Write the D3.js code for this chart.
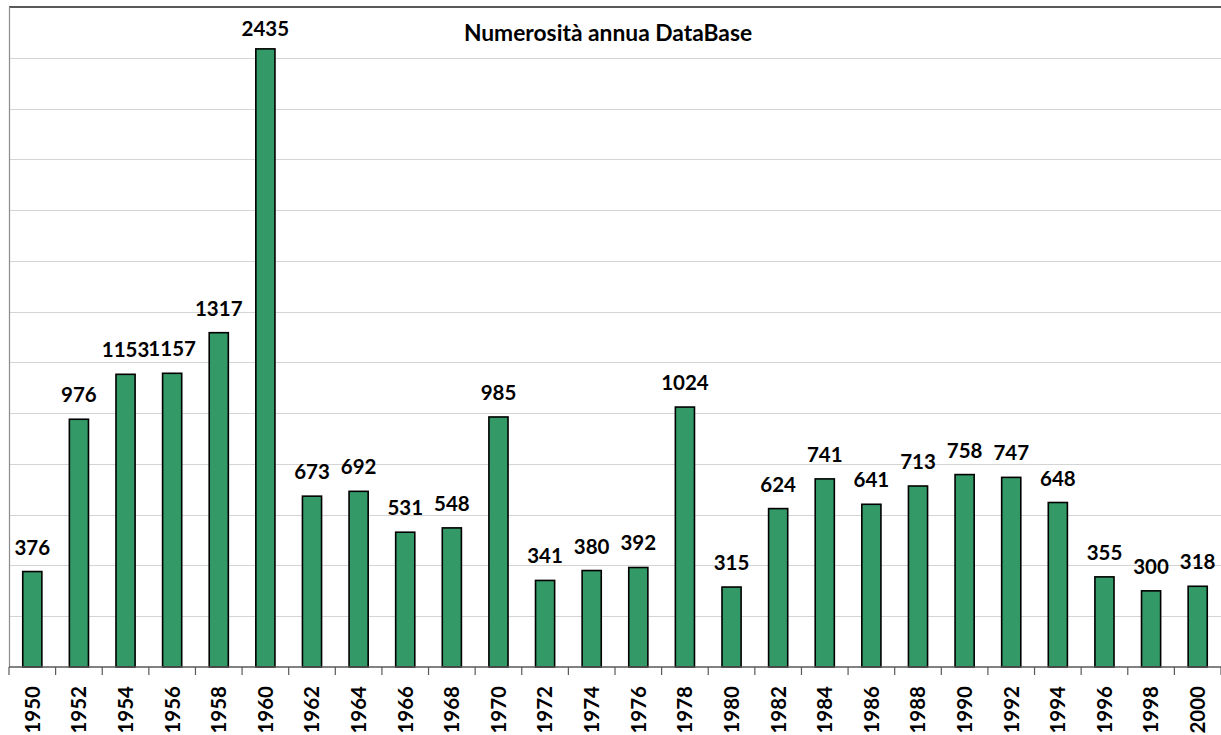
<!DOCTYPE html>
<meta charset="utf-8">
<script src="https://d3js.org/d3.v7.min.js"></script>
<style>
    body { margin: 0; background: #fff; }
    svg { display: block; }
    .lbl { font-family: Lato, "Open Sans", sans-serif; font-weight: 700; fill: #000; }
</style>
<div id="chart"></div>
<script>
    // data
    var years = ["1950", "1952", "1954", "1956", "1958", "1960", "1962", "1964", "1966", "1968",
        "1970", "1972", "1974", "1976", "1978", "1980", "1982", "1984", "1986", "1988",
        "1990", "1992", "1994", "1996", "1998", "2000"];
    var counts = [376, 976, 1153, 1157, 1317, 2435, 673, 692, 531, 548,
        985, 341, 380, 392, 1024, 315, 624, 741, 641, 713,
        758, 747, 648, 355, 300, 318];
    var gridTicks = [200, 400, 600, 800, 1000, 1200, 1400, 1600, 1800, 2000, 2200, 2400];
    var title = "Numerosità annua DataBase";

    var W = 1221, H = 735;
    var plotLeft = 9, plotRight = 1221, plotTop = 7, plotBottom = 667;

    var svg = d3.select("#chart").append("svg")
        .attr("width", W)
        .attr("height", H);

    var x = d3.scaleBand()
        .domain(years)
        .range([plotLeft, plotRight])
        .paddingInner(0.59)
        .paddingOuter(0.295);

    var y = d3.scaleLinear()
        .domain([0, 2600])
        .range([plotBottom, plotTop]);

    // gridlines
    svg.selectAll("line.grid")
        .data(gridTicks)
        .enter()
        .append("line")
        .attr("class", "grid")
        .attr("x1", plotLeft)
        .attr("x2", plotRight)
        .attr("y1", d => Math.round(y(d)) + 0.5)
        .attr("y2", d => Math.round(y(d)) + 0.5)
        .attr("stroke", "#d4d4d4")
        .attr("stroke-width", 1.2);

    // frame: top + left
    svg.append("line")
        .attr("x1", plotLeft).attr("x2", plotRight)
        .attr("y1", plotTop).attr("y2", plotTop)
        .attr("stroke", "#5a5a5a")
        .attr("stroke-width", 2);
    svg.append("line")
        .attr("x1", plotLeft + 0.5).attr("x2", plotLeft + 0.5)
        .attr("y1", plotTop).attr("y2", plotBottom)
        .attr("stroke", "#8c8c8c")
        .attr("stroke-width", 1.2);

    // bars
    svg.selectAll("rect.bar")
        .data(counts)
        .enter()
        .append("rect")
        .attr("class", "bar")
        .attr("x", (d, i) => x(years[i]))
        .attr("width", x.bandwidth())
        .attr("y", d => y(d))
        .attr("height", d => plotBottom - y(d))
        .attr("fill", "#339966")
        .attr("stroke", "#000")
        .attr("stroke-width", 1.6);

    // value labels (kept inside the frame, like the tallest one)
    svg.selectAll("text.val")
        .data(counts)
        .enter()
        .append("text")
        .attr("class", "lbl val")
        .attr("x", (d, i) => x(years[i]) + x.bandwidth() / 2)
        .attr("y", d => Math.max(y(d) - 17, 36))
        .attr("text-anchor", "middle")
        .style("font-size", "20.5px")
        .text(d => d);

    // x axis
    var xAxis = svg.append("g")
        .attr("transform", "translate(0," + plotBottom + ")");

    xAxis.append("line")
        .attr("x1", plotLeft).attr("x2", plotRight)
        .attr("stroke", "#595959")
        .attr("stroke-width", 1.5);

    var step = x.step();
    var bounds = d3.range(years.length + 1).map(i => plotLeft + i * step);
    xAxis.selectAll("line.tick")
        .data(bounds)
        .enter()
        .append("line")
        .attr("class", "tick")
        .attr("x1", d => d).attr("x2", d => d)
        .attr("y1", 0).attr("y2", 8)
        .attr("stroke", "#595959")
        .attr("stroke-width", 1.2);

    xAxis.selectAll("text.yr")
        .data(years)
        .enter()
        .append("text")
        .attr("class", "lbl yr")
        .attr("transform", d => "translate(" + (x(d) + x.bandwidth() / 2) + ",19) rotate(-90)")
        .attr("text-anchor", "end")
        .attr("dy", "0.36em")
        .style("font-size", "20.5px")
        .text(d => d);

    // title
    svg.append("text")
        .attr("class", "lbl")
        .attr("x", 608)
        .attr("y", 41)
        .attr("text-anchor", "middle")
        .style("font-size", "22.8px")
        .text(title);
</script>
